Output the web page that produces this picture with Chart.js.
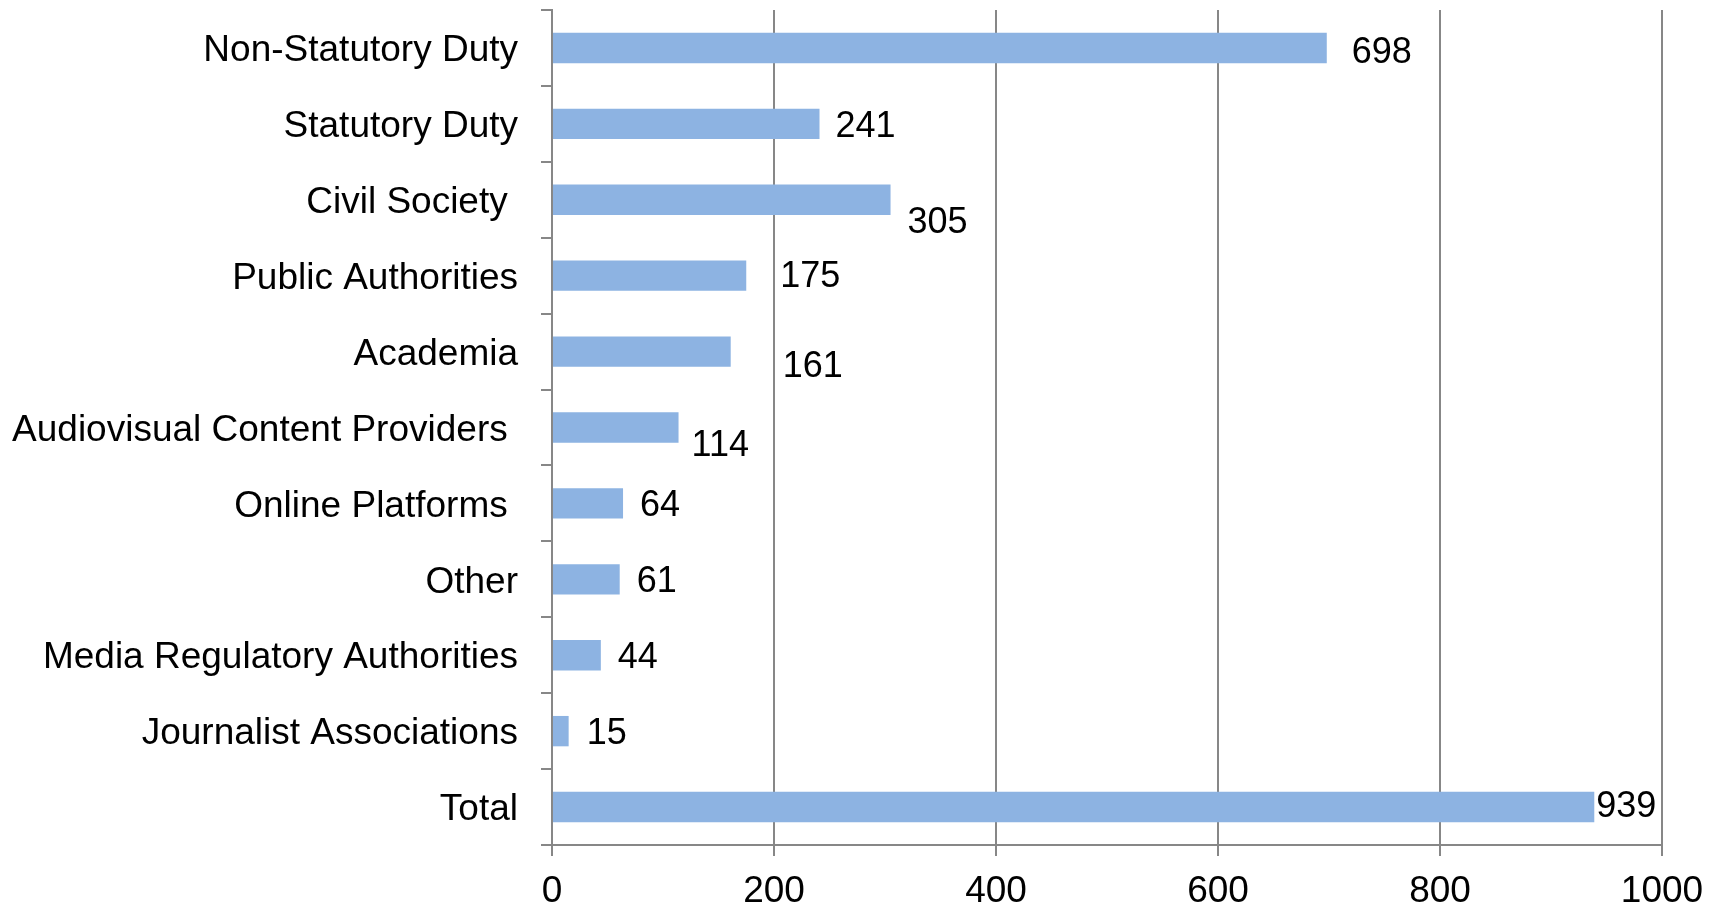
<!DOCTYPE html>
<html>
<head>
<meta charset="utf-8">
<title>Respondents by category</title>
<script src="https://cdn.jsdelivr.net/npm/chart.js@4/dist/chart.umd.min.js"></script>
<style>
    html, body { margin: 0; padding: 0; background: #ffffff; }
    #wrap { width: 1714px; height: 905px; }
</style>
</head>
<body>
<div id="wrap"><canvas id="respChart" width="1714" height="905"></canvas></div>
<script>
// Categories (top to bottom) and counts
const categories = [
    'Non-Statutory Duty',
    'Statutory Duty',
    'Civil Society ',
    'Public Authorities',
    'Academia',
    'Audiovisual Content Providers ',
    'Online Platforms ',
    'Other',
    'Media Regulatory Authorities',
    'Journalist Associations',
    'Total'
];
const counts = [698, 241, 305, 175, 161, 114, 64, 61, 44, 15, 939];
const xTicks = [0, 200, 400, 600, 800, 1000];

// Hand-placed value labels: [dx from bar end, dy from bar centre]
const labelNudge = [
    [25, 5], [16, 3], [17, 23], [34, 1], [52, 15], [13, 19],
    [17, 3], [17, 3], [17, 3], [18, 3], [2, 0]
];

const FONT = "'Liberation Sans', Arial, sans-serif";
const AXIS_GREY = '#878787';

// Draws each bar's value next to it
const valueLabels = {
    id: 'valueLabels',
    afterDatasetsDraw(chart) {
        const ctx = chart.ctx;
        const meta = chart.getDatasetMeta(0);
        ctx.save();
        ctx.font = '36px ' + FONT;
        ctx.fillStyle = '#000000';
        ctx.textAlign = 'left';
        ctx.textBaseline = 'middle';
        meta.data.forEach((bar, i) => {
            const nudge = labelNudge[i];
            ctx.fillText(String(counts[i]), bar.x + nudge[0], bar.y + nudge[1]);
        });
        ctx.restore();
    }
};

new Chart(document.getElementById('respChart').getContext('2d'), {
    type: 'bar',
    data: {
        labels: categories,
        datasets: [{
            data: counts,
            backgroundColor: '#8DB3E2',
            borderWidth: 0,
            barPercentage: 0.4,
            categoryPercentage: 1.0
        }]
    },
    options: {
        indexAxis: 'y',
        responsive: false,
        animation: false,
        events: [],
        layout: { padding: { top: 10, right: 52, left: 0, bottom: 0 } },
        plugins: {
            legend: { display: false },
            tooltip: { enabled: false }
        },
        scales: {
            y: {
                type: 'category',
                offset: true,
                grid: {
                    offset: true,
                    drawOnChartArea: false,
                    drawTicks: true,
                    tickLength: 11,
                    color: AXIS_GREY,
                    lineWidth: 2
                },
                border: { display: true, color: AXIS_GREY, width: 2 },
                ticks: {
                    color: '#000000',
                    font: { family: FONT, size: 37 },
                    padding: 23,
                    labelOffset: 3,
                    autoSkip: false
                },
                afterFit(scale) {
                    scale.width = 552;
                    scale.paddingTop = 0;
                    scale.paddingBottom = 0;
                }
            },
            x: {
                type: 'linear',
                min: 0,
                max: 1000,
                afterBuildTicks(scale) {
                    scale.ticks = xTicks.map(v => ({ value: v }));
                },
                grid: {
                    drawOnChartArea: true,
                    drawTicks: true,
                    tickLength: 11,
                    color: AXIS_GREY,
                    lineWidth: 2
                },
                border: { display: true, color: AXIS_GREY, width: 2 },
                ticks: {
                    color: '#000000',
                    font: { family: FONT, size: 37 },
                    padding: 14,
                    maxRotation: 0,
                    callback: v => String(v)
                },
                afterFit(scale) {
                    scale.height = 60;
                    scale.paddingLeft = 0;
                    scale.paddingRight = 0;
                }
            }
        }
    },
    plugins: [valueLabels]
});
</script>
</body>
</html>
